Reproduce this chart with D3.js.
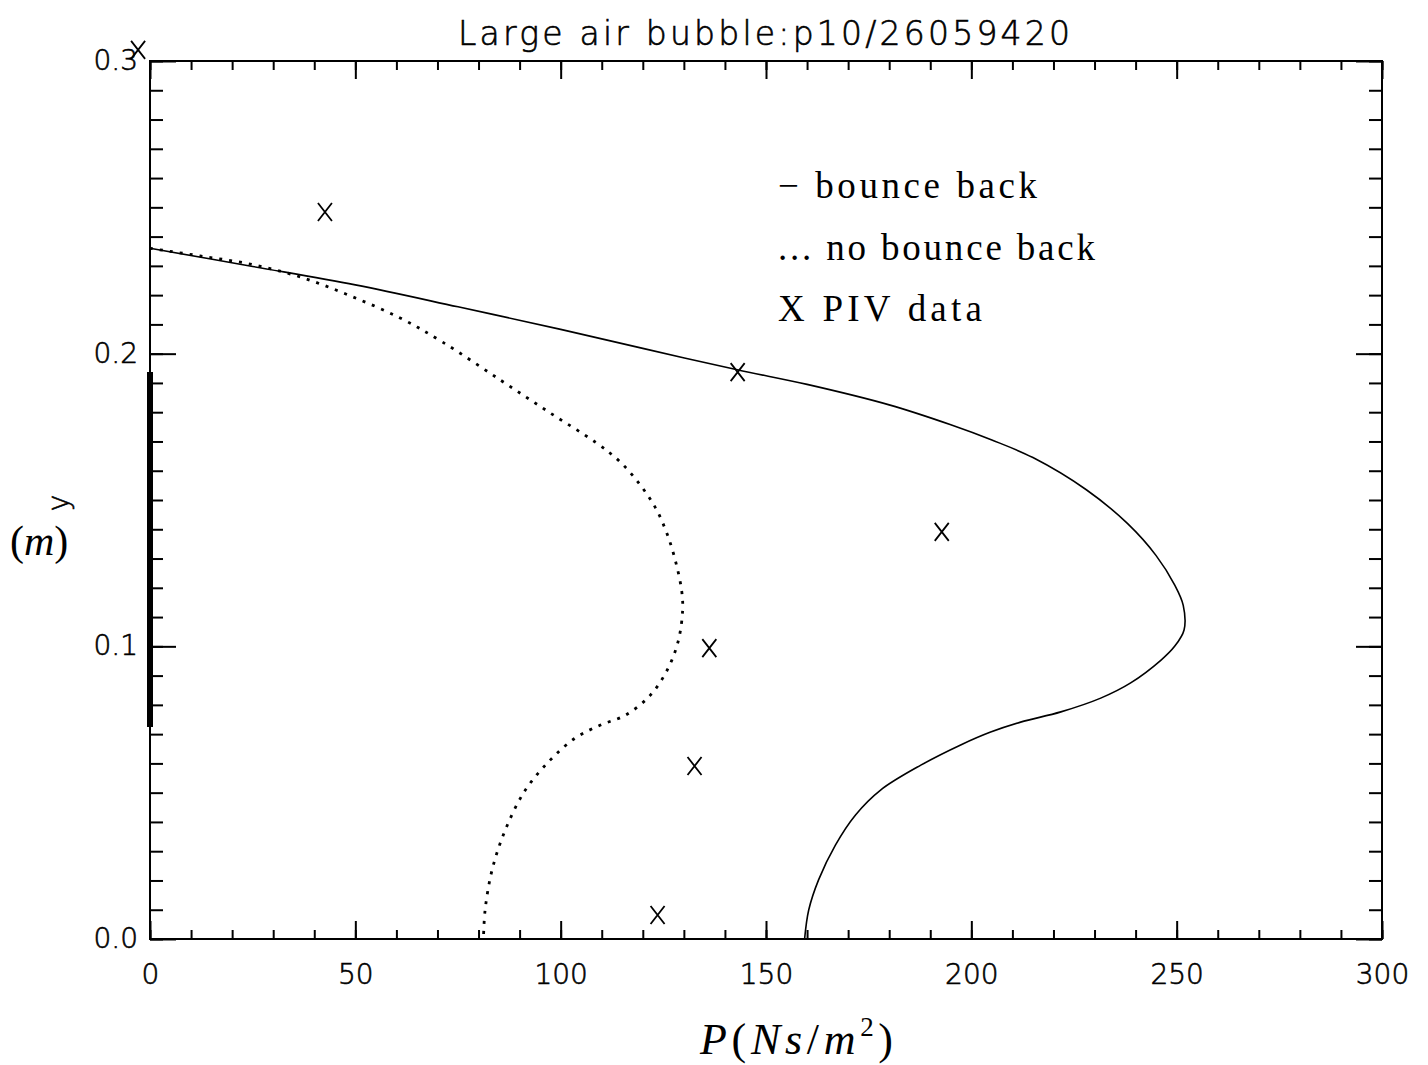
<!DOCTYPE html>
<html>
<head>
<meta charset="utf-8">
<script src="https://cdn.jsdelivr.net/npm/d3@7"></script>
<style>
  body { margin: 0; background: #fff; }
  svg { display: block; }
  .tick-label { font-family: "DejaVu Sans", sans-serif; font-weight: 200; font-size: 28px; fill: #000; stroke: #000; stroke-width: 0.6px; }
  .serif { font-family: "Liberation Serif", "DejaVu Serif", serif; fill: #000; }
</style>
</head>
<body>
<div id="chart"></div>
<script>
'use strict';

// bounce back (solid) curve: [P, y]
var bounceBack = [
  [0, 0.236], [25, 0.2298], [50, 0.2235], [75, 0.216], [100, 0.2083], [120, 0.2018],
  [143, 0.1945], [160, 0.1895], [180, 0.1825], [195, 0.1757], [205, 0.1705], [215, 0.1645],
  [228, 0.1535], [238, 0.142], [245, 0.131], [249.5, 0.121], [251.6, 0.114], [251.8, 0.1056],
  [249.5, 0.1], [246.2, 0.0953], [238.8, 0.0875], [231.5, 0.0823], [221.8, 0.0776], [212, 0.0741],
  [204.7, 0.0707], [197.4, 0.0663], [187.7, 0.0594], [177.9, 0.0509], [171.8, 0.0424],
  [166.9, 0.0321], [162.8, 0.0202], [160.4, 0.0099], [159.4, 0]
];

// no bounce back (dotted) curve: [P, y]
var noBounceBack = [
  [0, 0.236], [12.2, 0.2334], [24.4, 0.2306], [36.6, 0.2262], [48.7, 0.2198], [60.9, 0.2122],
  [71.2, 0.204], [85.3, 0.1910], [97.5, 0.1797], [108.7, 0.1695], [114.5, 0.1630], [119.4, 0.1551],
  [123.1, 0.1473], [126, 0.1381], [128.2, 0.1278], [129.5, 0.1186], [129.7, 0.1124],
  [128.7, 0.1022], [126.2, 0.0926], [121.9, 0.0834], [115.8, 0.0765], [109.7, 0.0731],
  [103.6, 0.0687], [97.5, 0.0612], [91.4, 0.0509], [86.5, 0.0372], [83.3, 0.0236],
  [81.6, 0.0099], [81.2, 0]
];

// PIV data points: [P, y]
var pivData = [
  [-2.9, 0.3038], [42.6, 0.2484], [143.1, 0.1937], [192.8, 0.1391],
  [136.2, 0.0994], [132.6, 0.0591], [123.6, 0.0082]
];

// thick segment along the wall (P = 0)
var wallSegment = [0.0724, 0.1937];

var xTicks = [0, 50, 100, 150, 200, 250, 300];
var yTicks = [0.0, 0.1, 0.2, 0.3];
var yTickLabels = ['0.0', '0.1', '0.2', '0.3'];
var titleText = 'Large air bubble:p10/26059420';
var legendLines = ['\u2212 bounce back', '... no bounce back', 'X PIV data'];

var W = 1428, H = 1065;
var margin = {top: 61, right: 46, bottom: 126, left: 150};
var width = W - margin.left - margin.right;
var height = H - margin.top - margin.bottom;

var xScale = d3.scaleLinear().domain([0, 300]).range([0, width]);
var yScale = d3.scaleLinear().domain([0, 0.3]).range([height, 0]);

var svg = d3.select('#chart').append('svg')
  .attr('width', W)
  .attr('height', H);

var g = svg.append('g')
  .attr('transform', 'translate(' + margin.left + ',' + margin.top + ')');

// Frame
g.append('rect')
  .attr('x', 0).attr('y', 0)
  .attr('width', width).attr('height', height)
  .attr('fill', 'none')
  .attr('stroke', '#000')
  .attr('stroke-width', 2);

function styleAxis(sel) {
  sel.select('.domain').remove();
  sel.selectAll('line').attr('stroke', '#000').attr('stroke-width', 2);
}

// Minor & major ticks, all pointing inward
var minorX = d3.range(0, 301, 10);
var minorY = d3.range(0, 0.3001, 0.01);

g.append('g').attr('transform', 'translate(0,' + height + ')')
  .call(d3.axisBottom(xScale).tickValues(minorX).tickSize(-9).tickFormat(''))
  .call(styleAxis);
g.append('g')
  .call(d3.axisTop(xScale).tickValues(minorX).tickSize(-9).tickFormat(''))
  .call(styleAxis);
g.append('g')
  .call(d3.axisLeft(yScale).tickValues(minorY).tickSize(-13).tickFormat(''))
  .call(styleAxis);
g.append('g').attr('transform', 'translate(' + width + ',0)')
  .call(d3.axisRight(yScale).tickValues(minorY).tickSize(-13).tickFormat(''))
  .call(styleAxis);

var xAxis = g.append('g').attr('transform', 'translate(0,' + height + ')')
  .call(d3.axisBottom(xScale).tickValues(xTicks).tickSize(-18).tickPadding(25).tickFormat(d3.format('d')))
  .call(styleAxis);
xAxis.selectAll('text').attr('class', 'tick-label').attr('dy', '0.71em');

g.append('g')
  .call(d3.axisTop(xScale).tickValues(xTicks).tickSize(-18).tickFormat(''))
  .call(styleAxis);

var yAxis = g.append('g')
  .call(d3.axisLeft(yScale).tickValues(yTicks).tickSize(-26).tickPadding(12)
    .tickFormat(function(d, i) { return yTickLabels[i]; }))
  .call(styleAxis);
yAxis.selectAll('text').attr('class', 'tick-label').attr('dy', '0.3em');

g.append('g').attr('transform', 'translate(' + width + ',0)')
  .call(d3.axisRight(yScale).tickValues(yTicks).tickSize(-26).tickFormat(''))
  .call(styleAxis);

// Curves
var line = d3.line()
  .x(function(d) { return xScale(d[0]); })
  .y(function(d) { return yScale(d[1]); })
  .curve(d3.curveCatmullRom.alpha(0.5));

g.append('path')
  .datum(bounceBack)
  .attr('fill', 'none')
  .attr('stroke', '#000')
  .attr('stroke-width', 1.6)
  .attr('d', line);

g.append('path')
  .datum(noBounceBack)
  .attr('fill', 'none')
  .attr('stroke', '#000')
  .attr('stroke-width', 2.8)
  .attr('stroke-dasharray', '3,7')
  .attr('d', line);

// Wall segment
g.append('line')
  .attr('x1', xScale(0)).attr('x2', xScale(0))
  .attr('y1', yScale(wallSegment[0])).attr('y2', yScale(wallSegment[1]))
  .attr('stroke', '#000')
  .attr('stroke-width', 6);

// PIV markers
g.selectAll('.piv')
  .data(pivData)
  .enter().append('path')
  .attr('class', 'piv')
  .attr('transform', function(d) { return 'translate(' + xScale(d[0]) + ',' + yScale(d[1]) + ')'; })
  .attr('d', 'M-7,-9L7,9M7,-9L-7,9')
  .attr('fill', 'none')
  .attr('stroke', '#000')
  .attr('stroke-width', 1.8);

// Title
svg.append('text')
  .attr('class', 'tick-label')
  .attr('x', 458).attr('y', 45)
  .attr('textLength', 612)
  .attr('lengthAdjust', 'spacing')
  .style('font-size', '33px')
  .text(titleText);

// Legend
var legendX = 778, legendY = [198, 260, 321], legendW = [259, 317, 204];
svg.selectAll('.legend')
  .data(legendLines)
  .enter().append('text')
  .attr('class', 'serif legend')
  .attr('x', legendX)
  .attr('y', function(d, i) { return legendY[i]; })
  .attr('textLength', function(d, i) { return legendW[i]; })
  .attr('lengthAdjust', 'spacing')
  .style('font-size', '37px')
  .text(function(d) { return d; });

// X axis title
var xt = svg.append('text')
  .attr('class', 'serif')
  .attr('x', 700).attr('y', 1054)
  .attr('textLength', 193)
  .attr('lengthAdjust', 'spacing')
  .style('font-size', '44px')
  .style('font-style', 'italic');
xt.append('tspan').text('P');
xt.append('tspan').style('font-style', 'normal').text('(');
xt.append('tspan').text('Ns');
xt.append('tspan').style('font-style', 'normal').text('/');
xt.append('tspan').text('m');
xt.append('tspan').attr('dy', -18).style('font-size', '27px').style('font-style', 'normal').text('2');
xt.append('tspan').attr('dy', 18).style('font-style', 'normal').text(')');

// Y axis title
var ym = svg.append('text')
  .attr('class', 'serif')
  .attr('x', 10).attr('y', 555)
  .style('font-size', '42px');
ym.append('tspan').text('(');
ym.append('tspan').style('font-style', 'italic').text('m');
ym.append('tspan').text(')');

svg.append('text')
  .attr('class', 'tick-label')
  .attr('transform', 'translate(68,503) rotate(-90)')
  .attr('text-anchor', 'middle')
  .text('y');
</script>
</body>
</html>
